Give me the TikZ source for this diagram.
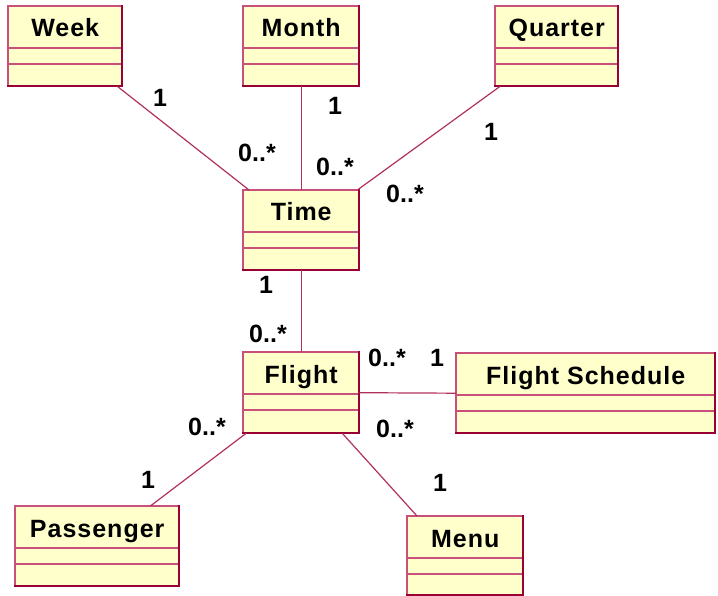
\documentclass[tikz,border=0pt]{standalone}
\usepackage{fontspec}
\setmainfont{Liberation Sans}
\newfontfamily\titlefont[LetterSpace=4]{Liberation Sans}
\definecolor{clsfill}{HTML}{FFFFCC}
\definecolor{clsedge}{HTML}{C8507A}
\definecolor{clsdark}{HTML}{990033}
\definecolor{linkcol}{HTML}{B0305E}
\tikzset{
  clsbox/.style={draw=none, inner sep=0pt, anchor=north west},
  clstitle/.style={inner sep=0pt, anchor=base, font=\titlefont\fontsize{25}{25}\bfseries\selectfont},
  mult/.style={inner sep=0pt, font=\fontsize{25}{25}\bfseries\selectfont},
  link/.style={draw=linkcol, line width=1.2pt},
  divider/.style={draw=clsedge, line width=1.2pt},
}
\newcommand\umlclass[6]{%
  \fill[clsfill] (#2,#3) rectangle (#4,#5);
  \node[clsbox, minimum width={(#4-#2)*1pt}, minimum height={(#5-#3)*1pt}] (#1) at (#2,#3) {};
  \draw[divider] (#1.south west) -- (#1.north west) -- (#1.north east);
  \draw[divider] ([yshift=-42pt]#1.north west) -- ([yshift=-42pt]#1.north east);
  \draw[divider] ([yshift=-58pt]#1.north west) -- ([yshift=-58pt]#1.north east);
  \draw[draw=clsdark, line width=2pt, line cap=rect] (#1.south west) -- (#1.south east) -- (#1.north east);
  \node[clstitle] (#1-t) at ([yshift=-31pt]#1.north) {#6};
}
\begin{document}
\begin{tikzpicture}[x=1pt, y=-1pt]
\useasboundingbox (0,0) rectangle (718,596);
% classes
\umlclass{week}{8}{6}{122}{86}{Week}
\umlclass{month}{243}{6}{359}{86}{Month}
\umlclass{quarter}{495}{6}{618}{86}{Quarter}
\umlclass{time}{243}{190}{359}{270}{Time}
\umlclass{flight}{243}{352}{359}{433}{Flight}
\umlclass{fs}{456}{353}{715}{433}{Flight Schedule}
\umlclass{passenger}{15}{506}{179}{586}{Passenger}
\umlclass{menu}{407}{516}{523}{595}{Menu}
% connectors
\draw[link] ([xshift=-5pt]week.south east) -- ([xshift=6pt]time.north west);
\draw[link] (month.south) -- (time.north);
\draw[link] ([xshift=5pt]quarter.south west) -- ([xshift=-2pt]time.north east);
\draw[link] (time.south) -- (flight.north);
\draw[link] (flight.east) -- (fs.west);
\draw[link] ([xshift=3pt]flight.south west) -- ([xshift=-29pt]passenger.north east);
\draw[link] ([xshift=-17pt]flight.south east) -- ([xshift=10pt]menu.north west);
% multiplicities
\node[mult] (m1) at (160,98) {1};
\node[mult] (m2) at (257,153) {0..*};
\node[mult] (m3) at (335,106) {1};
\node[mult] (m4) at (335,167) {0..*};
\node[mult] (m5) at (491,132) {1};
\node[mult] (m6) at (405,194) {0..*};
\node[mult] (m7) at (266,285) {1};
\node[mult] (m8) at (268,334) {0..*};
\node[mult] (m9) at (387,358) {0..*};
\node[mult] (m10) at (437,358) {1};
\node[mult] (m11) at (207,427) {0..*};
\node[mult] (m12) at (395,429) {0..*};
\node[mult] (m13) at (148,480) {1};
\node[mult] (m14) at (440,483) {1};
\end{tikzpicture}
\end{document}
